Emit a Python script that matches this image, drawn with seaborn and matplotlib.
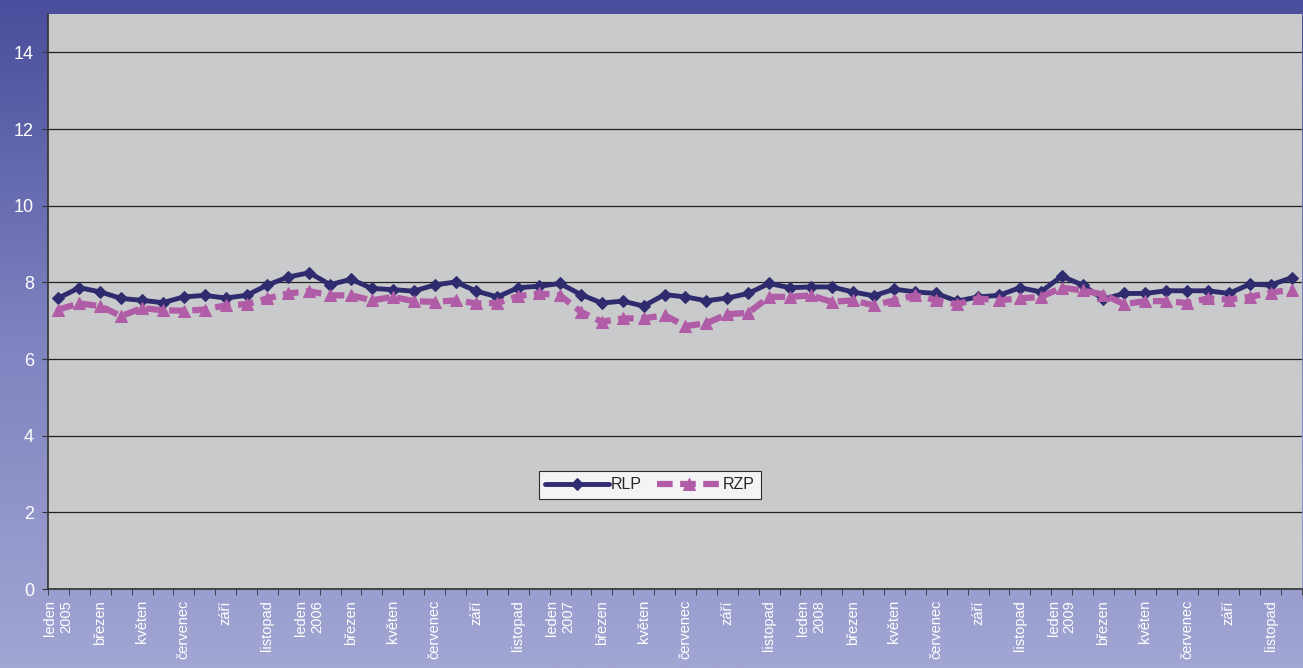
import numpy as np
import pandas as pd
import matplotlib
matplotlib.use("Agg")
import matplotlib.pyplot as plt
import seaborn as sns
from matplotlib.colors import LinearSegmentedColormap

sns.set_style("white")
plt.rcParams['font.family'] = ['Liberation Sans', 'DejaVu Sans']

months = ["leden", "únor", "březen", "duben", "květen", "červen", "červenec",
          "srpen", "září", "říjen", "listopad", "prosinec"]
years = [2005, 2006, 2007, 2008, 2009]

rlp = [7.59, 7.86, 7.75, 7.58, 7.53, 7.47, 7.62, 7.66, 7.59, 7.66, 7.93, 8.14,
       8.25, 7.94, 8.08, 7.84, 7.81, 7.77, 7.93, 8.01, 7.77, 7.62, 7.86, 7.90,
       7.97, 7.68, 7.46, 7.51, 7.38, 7.68, 7.62, 7.52, 7.59, 7.71, 7.97, 7.86,
       7.88, 7.88, 7.75, 7.65, 7.82, 7.75, 7.71, 7.51, 7.62, 7.66, 7.86, 7.75,
       8.16, 7.93, 7.56, 7.71, 7.71, 7.78, 7.78, 7.78, 7.71, 7.95, 7.93, 8.12]
rzp = [7.29, 7.45, 7.38, 7.12, 7.33, 7.27, 7.26, 7.29, 7.40, 7.43, 7.58, 7.71,
       7.77, 7.66, 7.66, 7.53, 7.62, 7.51, 7.49, 7.53, 7.45, 7.46, 7.64, 7.71,
       7.66, 7.23, 6.97, 7.06, 7.06, 7.14, 6.86, 6.93, 7.17, 7.20, 7.62, 7.62,
       7.66, 7.49, 7.53, 7.40, 7.53, 7.66, 7.53, 7.43, 7.58, 7.53, 7.58, 7.62,
       7.86, 7.79, 7.68, 7.43, 7.51, 7.51, 7.46, 7.58, 7.55, 7.62, 7.73, 7.81]

labels = []
for y in years:
    for m_i, m in enumerate(months):
        labels.append(f"{m}\n{y}" if m_i == 0 else m)

idx = np.arange(len(rlp))
df = pd.DataFrame({"idx": idx, "RLP": rlp, "RZP": rzp})

W, H = 1303, 668
fig = plt.figure(figsize=(W / 100, H / 100), dpi=100)

# gradient background
bg = fig.add_axes([0, 0, 1, 1], zorder=-10)
cmap = LinearSegmentedColormap.from_list("bg", ["#4a4e9c", "#7e82bf", "#a2a6d3"])
grad = np.linspace(0, 1, 256).reshape(-1, 1)
bg.imshow(grad, aspect="auto", cmap=cmap, extent=[0, 1, 0, 1], origin="upper")
bg.set_axis_off()

ax = fig.add_axes([48 / W, 1 - 589 / H, (1302 - 48) / W, (589 - 14) / H])
ax.set_facecolor("#c9cacc")

c_rlp = "#2e2b6e"
c_rzp = "#b05ca6"

sns.lineplot(data=df, x="idx", y="RLP", ax=ax, color=c_rlp, linewidth=3.5,
             marker="D", markersize=6, markeredgecolor=c_rlp, label="RLP")
sns.lineplot(data=df, x="idx", y="RZP", ax=ax, color=c_rzp, linewidth=4.5,
             marker="^", markersize=9, markeredgecolor=c_rzp, label="RZP",
             dashes=False)
ax.lines[1].set_linestyle((0, (2.5, 1.2)))

ax.set_xlim(-0.5, len(rlp) - 0.5)
ax.set_ylim(0, 15)
ax.set_yticks(range(0, 15, 2))
ax.yaxis.grid(True, color="#222222", linewidth=0.9)
ax.set_axisbelow(True)

ax.set_xticks(idx[::2])
ax.set_xticklabels(labels[::2], rotation=90, color="white", fontsize=10.5,
                   va="top", ha="center", multialignment="right")
ax.set_xticks(np.arange(-0.5, len(rlp), 1), minor=True)
ax.tick_params(axis="x", which="major", length=0, pad=8)
ax.tick_params(axis="x", which="minor", length=4, color="#333333", direction="out", bottom=True)
ax.tick_params(axis="y", length=4, color="#333333", direction="out", left=True,
               labelcolor="white", labelsize=13, pad=6)
ax.set_xlabel("")
ax.set_ylabel("")

for s in ["top", "right"]:
    ax.spines[s].set_visible(False)
for s in ["left", "bottom"]:
    ax.spines[s].set_color("#333333")
    ax.spines[s].set_linewidth(1.2)

leg = ax.legend(loc="center", bbox_to_anchor=(0.48, 0.181), ncol=2, frameon=True,
                fancybox=False, edgecolor="black", facecolor="white", fontsize=11.5,
                handlelength=4.0, columnspacing=1.0, handletextpad=0.1,
                borderpad=0.4)
leg.get_frame().set_linewidth(0.8)

fig.savefig("out.png", dpi=100)
